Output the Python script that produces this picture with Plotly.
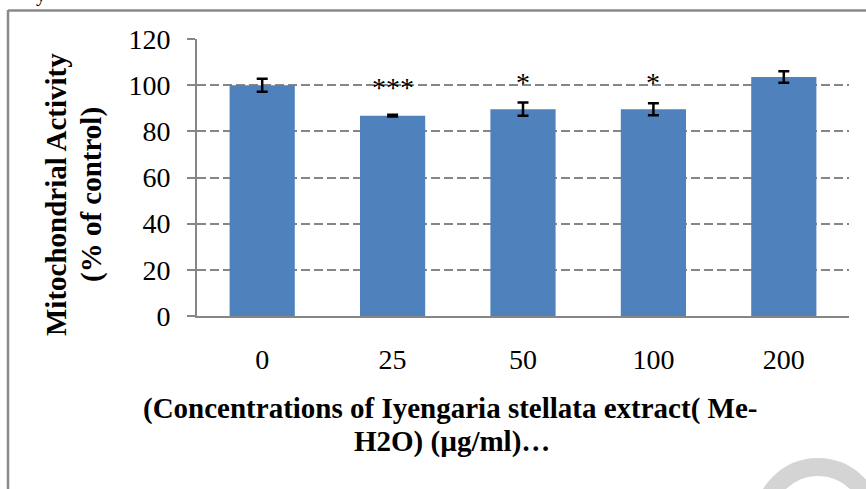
import plotly.graph_objects as go

# ---- data ----
categories = ["0", "25", "50", "100", "200"]
activity = [100.0, 86.8, 89.6, 89.6, 103.5]
errors = [2.8, 0.4, 2.9, 2.6, 2.5]
sig_labels = ["***", "*", "*"]
sig_cats = ["25", "50", "100"]
sig_y = [98.8, 101.2, 101.2]
y_ticks = [0, 20, 40, 60, 80, 100, 120]

y_title_1 = "Mitochondrial Activity"
y_title_2 = "(% of control)"
x_title_1 = "(Concentrations of Iyengaria stellata extract( Me-"
x_title_2 = "H2O) (µg/ml)…"

SERIF = "Liberation Serif, Times New Roman, serif"
GRAY = "#868686"

W, H = 866, 489
L, R, T, B = 197, 17, 39, 173
PW, PH = W - L - R, H - T - B


def px_x(x):
    return (x - L) / PW


def px_y(y):
    return (H - B - y) / PH


fig = go.Figure()
fig.add_trace(go.Bar(
    x=categories, y=activity,
    marker=dict(color="#4F81BD", line=dict(width=0)),
    error_y=dict(type="data", array=errors, visible=True,
                 color="black", thickness=2.5, width=5.5),
    showlegend=False,
))

annotations = []
for lab, c, yv in zip(sig_labels, sig_cats, sig_y):
    annotations.append(dict(x=categories.index(c), y=yv, xref="x", yref="y", text=lab,
                            showarrow=False, xanchor="center", yanchor="middle",
                            font=dict(family=SERIF, size=28, color="black")))

# axis titles
annotations += [
    dict(x=px_x(56), y=px_y(195), xref="paper", yref="paper", text="<b>%s</b>" % y_title_1,
         textangle=-90, showarrow=False, xanchor="center", yanchor="middle",
         font=dict(family=SERIF, size=29, color="black")),
    dict(x=px_x(91), y=px_y(195), xref="paper", yref="paper", text="<b>%s</b>" % y_title_2,
         textangle=-90, showarrow=False, xanchor="center", yanchor="middle",
         font=dict(family=SERIF, size=29, color="black")),
    dict(x=px_x(450), y=px_y(409), xref="paper", yref="paper", text="<b>%s</b>" % x_title_1,
         showarrow=False, xanchor="center", yanchor="middle",
         font=dict(family=SERIF, size=29, color="black")),
    dict(x=px_x(452), y=px_y(441), xref="paper", yref="paper", text="<b>%s</b>" % x_title_2,
         showarrow=False, xanchor="center", yanchor="middle",
         font=dict(family=SERIF, size=29, color="black")),
    # clipped caption glyph at very top-left
    dict(x=px_x(41), y=px_y(-5.5), xref="paper", yref="paper", text="y",
         showarrow=False, xanchor="center", yanchor="middle",
         font=dict(family=SERIF, size=20, color="black")),
]

shapes = [
    # outer frame (left and top edges)
    dict(type="line", xref="paper", yref="paper", x0=px_x(8), x1=px_x(8),
         y0=px_y(10), y1=px_y(520), line=dict(color="#8a8a8a", width=2.5)),
    dict(type="line", xref="paper", yref="paper", x0=px_x(8), x1=px_x(900),
         y0=px_y(10.5), y1=px_y(10.5), line=dict(color="#8a8a8a", width=2.5)),
    # faint watermark arc bottom-right
    dict(type="circle", xref="paper", yref="paper",
         x0=px_x(818 - 55), x1=px_x(818 + 55), y0=px_y(522 + 55), y1=px_y(522 - 55),
         line=dict(color="#d4d4d4", width=18), layer="above"),
]

fig.update_layout(
    width=W, height=H,
    margin=dict(l=L, r=R, t=T, b=B, pad=0),
    paper_bgcolor="white", plot_bgcolor="white",
    bargap=0.5,
    annotations=annotations,
    shapes=shapes,
    xaxis=dict(
        type="category", range=[-0.5, len(categories) - 0.5],
        showline=True, linecolor=GRAY, linewidth=2,
        ticks="", showgrid=False, zeroline=False,
        tickfont=dict(family=SERIF, size=28, color="black"),
        ticklabelstandoff=17,
    ),
    yaxis=dict(
        range=[0, 120], tickvals=y_ticks, showline=True, linecolor=GRAY, linewidth=2,
        ticks="outside", ticklen=8, tickcolor=GRAY, tickwidth=1.5,
        showgrid=True, gridcolor=GRAY, gridwidth=1.5, griddash="9px,4px",
        zeroline=False,
        tickfont=dict(family=SERIF, size=28, color="black"),
        ticklabelstandoff=11,
    ),
)

fig.write_html("out.html")
